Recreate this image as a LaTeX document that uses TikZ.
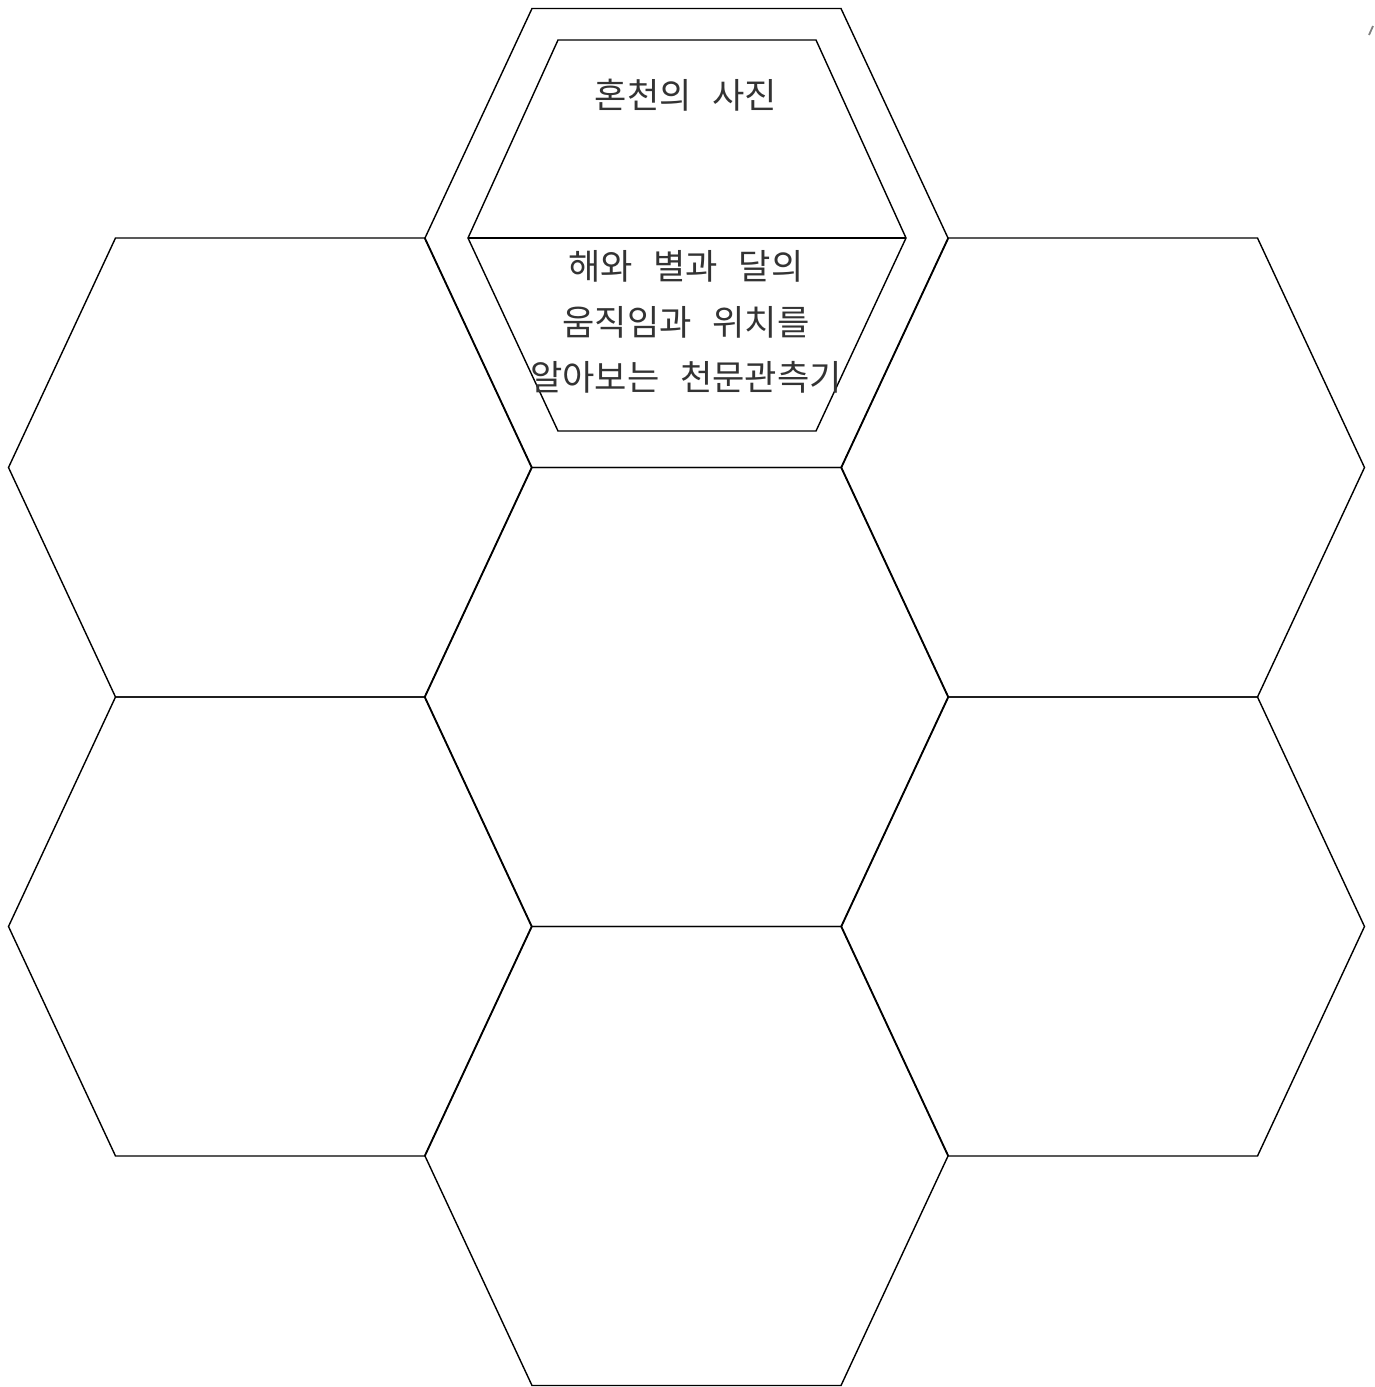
\documentclass[tikz,border=0pt]{standalone}
\usepackage{fontspec}
\usepackage{tikz}
\newfontfamily\kofont[WordSpace=2.6]{Noto Sans CJK KR}

\begin{document}
\begin{tikzpicture}[x=0.02cm,y=-0.02cm,line width=0.8pt,
		celltext/.style={font={\kofont\fontsize{20}{31.6}\selectfont},text=black!80,inner sep=0pt}]
		\useasboundingbox (0,0) rectangle (1375,1387);
		\def\hexcell{ ++(-261.5,0) -- ++(107,-229.5) -- ++(309,0) -- ++(107,229.5) -- ++(-107,229.5) -- ++(-309,0) -- cycle};
		% honeycomb of seven cells
		\foreach \cx/\cy in {686.5/238, 270/467.5, 1103/467.5, 686.5/697, 270/926.5, 1103/926.5, 686.5/1156}
			\draw (\cx,\cy) \hexcell;
		% inner frame of the top cell
		\draw (558,40) -- (816,40) -- (906,238) -- (816,431) -- (558,431) -- (468,238) -- cycle;
		\draw (468,238) -- (906,238);
		\node[celltext] (photo) at (686,95) {혼천의 사진};
		\node[celltext,align=center] (caption) at (686,322) {해와 별과 달의\\움직임과 위치를\\알아보는 천문관측기};
		\draw[gray,line width=1pt] (1369,35) -- (1373,26);
	\end{tikzpicture}
\end{document}
